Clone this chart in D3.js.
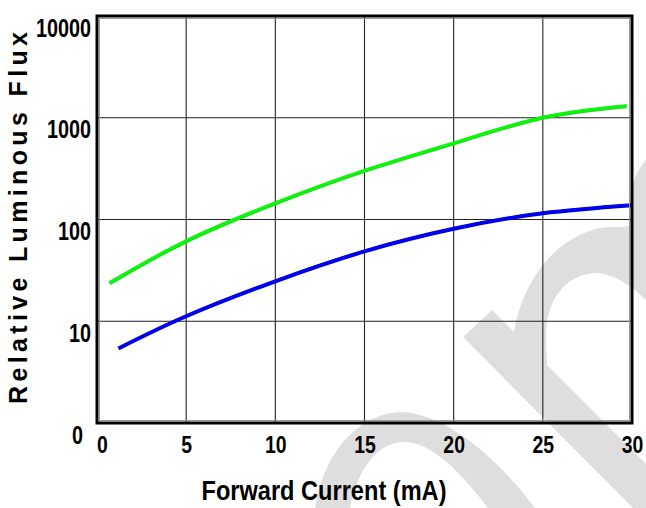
<!DOCTYPE html>
<html>
<head>
<meta charset="utf-8">
<script src="https://cdn.jsdelivr.net/npm/d3@7"></script>
<style>
  body { margin: 0; background: #fff; }
  svg { display: block; }
  .tick text { font-family: "Liberation Sans", Arial, sans-serif; font-weight: bold; }
</style>
</head>
<body>
<svg id="chart"></svg>
<script>
// tick values and labels
var xTicks = [0, 5, 10, 15, 20, 25, 30]
var yTicks = [1, 10, 100, 1000, 10000]
var yTickLabels = ["0", "10", "100", "1000", "10000"]

// forward current (mA) vs relative luminous flux
var greenCurrent = [0.7, 5, 10, 15, 20, 25, 29.7]
var greenFlux    = [23.6, 61, 144, 300, 560, 1000, 1300]

var blueCurrent = [1.2, 5, 10, 15, 20, 25, 30]
var blueFlux    = [5.4, 11.2, 24.7, 48.6, 81, 115, 138]

var dimensions = {
    width: 646,
    height: 508,
    margin: { top: 16, bottom: 85, right: 14, left: 97 }
}

var svg = d3.select("#chart")
            .attr("width", dimensions.width)
            .attr("height", dimensions.height)

var xScale = d3.scaleLinear()
               .domain([0, 30])
               .range([dimensions.margin.left, dimensions.width - dimensions.margin.right])

var yScale = d3.scaleLog()
               .domain([1, 10000])
               .range([dimensions.height - dimensions.margin.bottom, dimensions.margin.top])

// grey watermark behind the plot
var wm = svg.append("g").attr("fill", "#dedede")
wm.append("path")
  .attr("d", "M315,508 C325,445 365,412 402,412 C445,414 495,455 535,508 L488,508 C460,472 432,442 404,442 C378,442 358,468 350,508 Z")
wm.append("path")
  .attr("d", "M463,337 L492,310 L646,464 L646,508 L633,508 Z")
wm.append("path")
  .attr("d", "M512,356 C512,300 545,240 600,228 C615,226 625,228 630,225 C628,200 630,178 646,160 L646,300 C630,285 615,274 595,273 C565,275 545,300 546,340 L548,390 Z")

var plotLeft = dimensions.margin.left
var plotRight = dimensions.width - dimensions.margin.right
var plotTop = dimensions.margin.top
var plotBottom = dimensions.height - dimensions.margin.bottom

// grid
svg.append("g")
   .selectAll("line")
   .data(xTicks.slice(1, -1))
   .enter()
   .append("line")
   .attr("x1", d => xScale(d))
   .attr("x2", d => xScale(d))
   .attr("y1", plotTop)
   .attr("y2", plotBottom)
   .attr("stroke", "#222")
   .attr("stroke-width", 1.1)

svg.append("g")
   .selectAll("line")
   .data(yTicks.slice(1, -1))
   .enter()
   .append("line")
   .attr("x1", plotLeft)
   .attr("x2", plotRight)
   .attr("y1", d => yScale(d))
   .attr("y2", d => yScale(d))
   .attr("stroke", "#222")
   .attr("stroke-width", 1.1)

// curves
var line = d3.line()
             .x(d => xScale(d[0]))
             .y(d => yScale(d[1]))
             .curve(d3.curveNatural)

var green = d3.zip(greenCurrent, greenFlux)
var blue = d3.zip(blueCurrent, blueFlux)

svg.append("path").datum(green)
   .attr("d", line).attr("fill", "none")
   .attr("stroke", "#22dd22").attr("stroke-width", 4)
svg.append("path").datum(green)
   .attr("d", line).attr("fill", "none")
   .attr("stroke", "#00ff00").attr("stroke-width", 2)
   .attr("transform", "translate(0,-0.6)")

svg.append("path").datum(blue)
   .attr("d", line).attr("fill", "none")
   .attr("stroke", "#0000cc").attr("stroke-width", 4)
svg.append("path").datum(blue)
   .attr("d", line).attr("fill", "none")
   .attr("stroke", "#0000ff").attr("stroke-width", 2)
   .attr("transform", "translate(0,-0.6)")

// frame
svg.append("rect")
   .attr("x", plotLeft + 2.5).attr("y", plotTop + 2.5)
   .attr("width", plotRight - plotLeft - 5).attr("height", plotBottom - plotTop - 5)
   .attr("fill", "none").attr("stroke", "#999").attr("stroke-width", 1)
svg.append("rect")
   .attr("x", plotLeft).attr("y", plotTop)
   .attr("width", plotRight - plotLeft).attr("height", plotBottom - plotTop)
   .attr("fill", "none").attr("stroke", "#000").attr("stroke-width", 3)

// axes (labels squeezed to a narrow bold look)
var xAxisGen = d3.axisBottom().scale(xScale).tickValues(xTicks).tickSize(0).tickPadding(14)
var xAxis = svg.append("g")
               .call(xAxisGen)
               .attr("transform", `translate(0,${plotBottom})`)
xAxis.select(".domain").remove()
xAxis.selectAll("text")
     .style("font-size", "23px").attr("fill", "#000")
     .attr("textLength", d => String(d).length * 10.8)
     .attr("lengthAdjust", "spacingAndGlyphs")
     .attr("dx", d => d === 0 ? 5 : 0)

var yAxisGen = d3.axisLeft().scale(yScale).tickValues(yTicks)
                 .tickFormat((d, i) => yTickLabels[i]).tickSize(0).tickPadding(6)
var yAxis = svg.append("g")
               .call(yAxisGen)
               .attr("transform", `translate(${plotLeft},0)`)
yAxis.select(".domain").remove()
yAxis.selectAll("text")
     .style("font-size", "25px").attr("fill", "#000").attr("dy", "0.8em")
     .attr("textLength", (d, i) => yTickLabels[i].length * 11)
     .attr("lengthAdjust", "spacingAndGlyphs")
     .attr("dx", d => d === 1 ? -8 : 0)

svg.append("text")
   .attr("x", 324)
   .attr("y", 500)
   .attr("text-anchor", "middle")
   .attr("textLength", 245)
   .attr("lengthAdjust", "spacingAndGlyphs")
   .style("font-family", "'Liberation Sans', Arial, sans-serif")
   .style("font-weight", "bold")
   .style("font-size", "28px")
   .text("Forward Current (mA)")

svg.append("text")
   .attr("transform", "translate(27,218) rotate(-90)")
   .attr("text-anchor", "middle")
   .attr("textLength", 372)
   .attr("lengthAdjust", "spacing")
   .style("font-family", "'Liberation Sans', Arial, sans-serif")
   .style("font-weight", "bold")
   .style("font-size", "25px")
   .text("Relative Luminous Flux")
</script>
</body>
</html>
